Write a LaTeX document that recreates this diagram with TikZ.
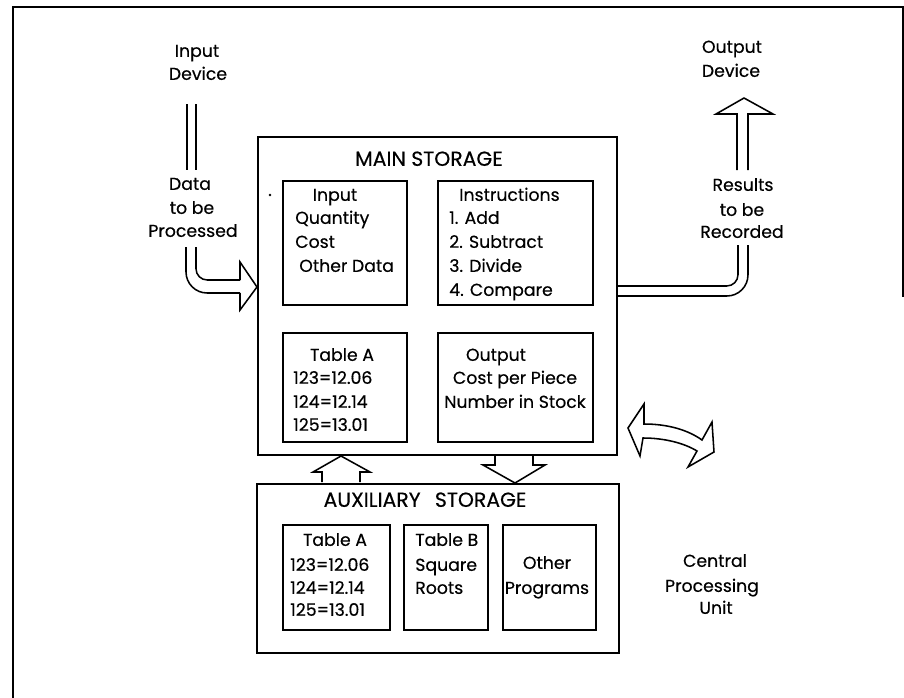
\documentclass[tikz,border=0pt]{standalone}
\usepackage{fontspec}
\setmainfont{Poppins}[UprightFeatures={FakeBold=0.4}]
\begin{document}
\begin{tikzpicture}[x=0.025cm, y=-0.025cm,
    box/.style={line width=1.4pt},
    fatarrow/.style={line width=1.1pt, line join=miter},
    lbl/.style={inner sep=0pt, font=\fontsize{12.3}{14}\selectfont},
    lline/.style={lbl, anchor=mid west},
    cline/.style={lbl, anchor=mid},
    title/.style={cline, font=\fontsize{14.5}{16}\selectfont}]
    \useasboundingbox (0,0) rectangle (904,698);

    % Draw the outer frame
    \draw[box] (13,698) -- (13,7) -- (904,7);
    \draw[box] (903,7) -- (903,297);

    % Main storage with its four areas
    \draw[box] (258,137) rectangle (617,455);
    \draw[box] (283,181) rectangle (407,305);
    \draw[box] (438,181) rectangle (593,305);
    \draw[box] (283,333) rectangle (407,442);
    \draw[box] (438,333) rectangle (593,442);
    \fill (270,195) circle (1.3);

    % Auxiliary storage with its three areas
    \draw[box] (257,484) rectangle (619,653);
    \draw[box] (283,525) rectangle (390,630);
    \draw[box] (404,525) rectangle (488,630);
    \draw[box] (503,525) rectangle (596,630);

    % Input arrow into main storage
    \draw[fatarrow] (187,104) -- (187,170);
    \draw[fatarrow] (196,104) -- (196,170);
    \draw[fatarrow, rounded corners=15pt] (186,247) -- (186,293) -- (240,293);
    \draw[fatarrow, rounded corners=8pt] (196,247) -- (196,280) -- (240,280);
    \draw[fatarrow] (240,280) -- (240,262) -- (257,287) -- (240,310) -- (240,293);

    % Output arrow out of main storage
    \draw[fatarrow, rounded corners=15pt] (617,296) -- (748,296) -- (748,245);
    \draw[fatarrow, rounded corners=8pt] (617,286) -- (738,286) -- (738,245);
    \draw[fatarrow] (737,170) -- (737,114) -- (716,114) -- (744,98) -- (773,114) -- (748,114) -- (748,170);

    % Arrows between main and auxiliary storage
    \draw[fatarrow] (322,482) -- (322,472) -- (313,472) -- (341,456) -- (370,472) -- (360,472) -- (360,482);
    \draw[fatarrow] (495,456) -- (495,465) -- (483,465) -- (515,483) -- (545,465) -- (533,465) -- (533,456);

    % Curved two-way arrow
    \draw[fatarrow] (644,424) .. controls (668,424) and (688,430) .. (702,440)
        -- (712,422) -- (714,452) -- (688,467) -- (697,451)
        .. controls (684,443) and (664,438) .. (643,438)
        -- (640,456) -- (628,428) -- (644,404) -- cycle;

    % Labels outside the storage boxes
    \node[cline] (indev1) at (197,53) {Input};
    \node[cline] (indev2) at (198,76) {Device};
    \node[cline] (data1) at (190,186) {Data};
    \node[cline] (data2) at (192,210) {to be};
    \node[cline] (data3) at (193,233) {Processed};
    \node[cline] (outdev1) at (732,49) {Output};
    \node[cline] (outdev2) at (731,73) {Device};
    \node[cline] (res1) at (743,187) {Results};
    \node[cline] (res2) at (742,212) {to be};
    \node[cline] (res3) at (742,234) {Recorded};
    \node[cline] (cpu1) at (715,563) {Central};
    \node[cline] (cpu2) at (712,588) {Processing};
    \node[cline] (cpu3) at (716,610) {Unit};

    % Texts in main storage
    \node[title] (mainttl) at (429,162) {MAIN STORAGE};
    \node[cline] (inp0) at (335,197) {Input};
    \node[lline] (inp1) at (295,220) {Quantity};
    \node[lline] (inp2) at (295,244) {Cost};
    \node[lline] (inp3) at (299,268) {Other Data};
    \node[lline] (ins0) at (459,197) {Instructions};
    \node[lline] (ins1) at (449,220) {1. Add};
    \node[lline] (ins2) at (449,244) {2. Subtract};
    \node[lline] (ins3) at (449,268) {3. Divide};
    \node[lline] (ins4) at (449,292) {4. Compare};
    \node[cline] (tba0) at (342,357) {Table A};
    \node[lline] (tba1) at (293,380) {123=12.06};
    \node[lline] (tba2) at (293,404) {124=12.14};
    \node[lline] (tba3) at (293,427) {125=13.01};
    \node[cline] (out0) at (496,357) {Output};
    \node[cline] (out1) at (515,380) {Cost per Piece};
    \node[cline] (out2) at (515,404) {Number in Stock};

    % Texts in auxiliary storage
    \node[title] (auxttl) at (425,503) {AUXILIARY\hspace{0.7em}STORAGE};
    \node[cline] (atba0) at (335,542) {Table A};
    \node[lline] (atba1) at (290,567) {123=12.06};
    \node[lline] (atba2) at (290,590) {124=12.14};
    \node[lline] (atba3) at (290,612) {125=13.01};
    \node[lline] (tbb0) at (415,542) {Table B};
    \node[lline] (tbb1) at (415,567) {Square};
    \node[lline] (tbb2) at (415,590) {Roots};
    \node[cline] (oth1) at (547,565) {Other};
    \node[cline] (oth2) at (547,590) {Programs};
\end{tikzpicture}
\end{document}
